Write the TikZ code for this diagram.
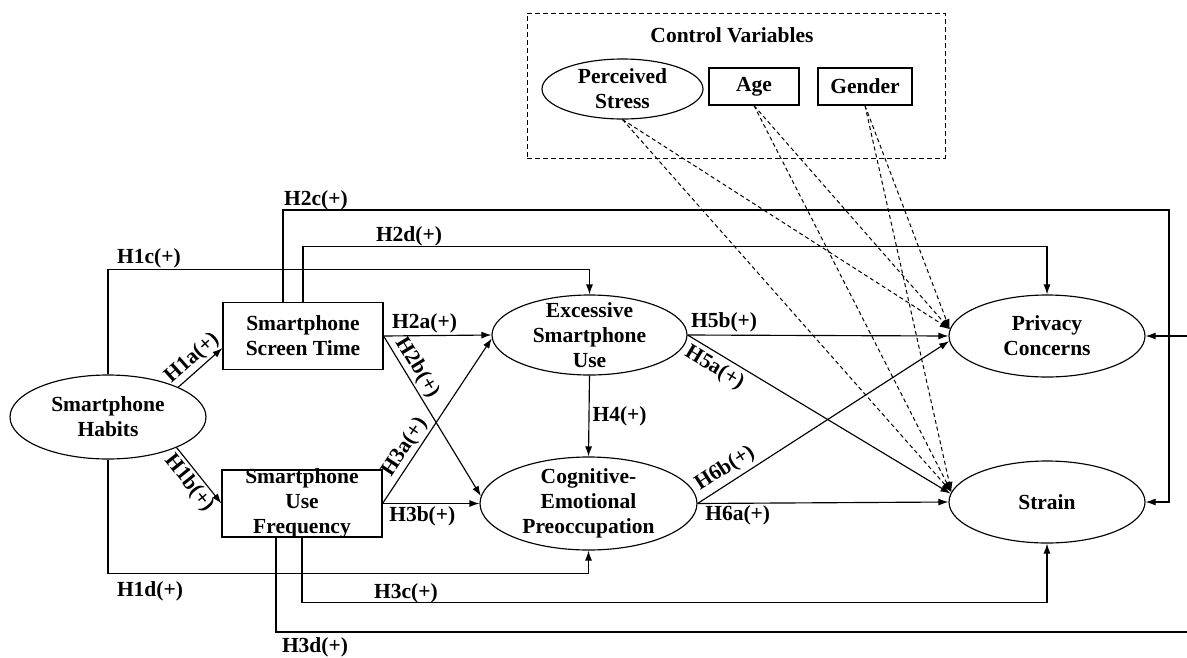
\documentclass[tikz,border=0pt]{standalone}
\usepackage{fontspec}
\setmainfont{Liberation Serif}
\usetikzlibrary{arrows.meta,shapes.geometric}
\begin{document}
\begin{tikzpicture}[x=1pt,y=-1pt,line width=1.15pt,
  every node/.style={font=\fontsize{21.5}{25}\selectfont\bfseries},
  ell/.style={ellipse,draw,inner sep=0pt},
  box/.style={rectangle,draw,inner sep=0pt},
  txt/.style={align=center,inner sep=0pt},
  arr/.style={-{Latex[length=10pt,width=7pt]}},
  ctrl/.style={arr,dash pattern=on 4pt off 3pt,line width=1pt},
  hyp/.style={inner sep=2pt}]
\useasboundingbox (0,0) rectangle (1187,657);

% control variables
\node[draw,dash pattern=on 5pt off 3pt,line width=1pt,minimum width=418pt,minimum height=145pt,inner sep=0pt] (cv) at (736,85.5) {};
\node[inner sep=0pt] (cvt) at (732,35) {Control Variables};
\node[ell,minimum width=161pt,minimum height=60pt,label={[txt]center:Perceived\\Stress}] (ps) at (622.5,89) {};
\node[box,minimum width=90pt,minimum height=37pt,label={[txt]center:Age}] (age) at (754,86.5) {};
\node[box,minimum width=94pt,minimum height=37pt,label={[txt]center:Gender}] (gen) at (865,86.5) {};

% constructs
\node[ell,minimum width=196pt,minimum height=84pt,label={[txt]center:Smartphone\\Habits}] (sh) at (108,417) {};
\node[box,minimum width=160pt,minimum height=67pt,label={[txt]center:Smartphone\\Screen Time}] (stt) at (303,336) {};
\node[box,minimum width=160pt,minimum height=67pt,label={[txt]center:Smartphone\\Use\\Frequency}] (uf) at (302,503.5) {};
\node[ell,minimum width=195pt,minimum height=80pt,label={[txt]center:Excessive\\Smartphone\\Use}] (es) at (589.5,335) {};
\node[ell,minimum width=217pt,minimum height=93pt,label={[txt]center:Cognitive-\\Emotional\\Preoccupation}] (ce) at (588.5,503.5) {};
\node[ell,minimum width=196pt,minimum height=82pt,label={[txt]center:Privacy\\Concerns}] (pc) at (1047,336) {};
\node[ell,minimum width=196pt,minimum height=82pt,label={[txt]center:Strain}] (st) at (1047,502) {};

% bend and edge points
\coordinate (rtop) at (1169,210);
\coordinate (bedge) at (1187,632);
\coordinate (redge) at (1187,336);

% direct paths
\draw[arr] (sh.23) -- node[hyp,sloped,above,pos=.5] (l1a) {H1a(+)} ([yshift=-12pt]stt.west);
\draw[arr] (sh.336) -- node[hyp,sloped,below,pos=.5] (l1b) {H1b(+)} (uf.west);
\draw[arr] (stt.east) -- node[hyp,above,pos=.38] (l2a) {H2a(+)} (es.west);
\draw[arr] (stt.east) -- node[hyp,sloped,above,pos=.24] (l2b) {H2b(+)} (ce.176);
\draw[arr] (uf.east) -- node[hyp,sloped,above,pos=.3] (l3a) {H3a(+)} (es.182);
\draw[arr] (uf.east) -- node[hyp,below,pos=.41] (l3b) {H3b(+)} (ce.west);
\draw[arr] (es.south) -- node[hyp,right,inner sep=3pt] (l4) {H4(+)} (ce.north);
\draw[arr] (es.east) -- node[hyp,above,pos=.14] (l5b) {H5b(+)} (pc.west);
\draw[arr] (es.east) -- node[hyp,sloped,below,pos=.13,inner sep=4pt] (l5a) {H5a(+)} (st.175);
\draw[arr] (ce.east) -- node[hyp,sloped,above,pos=.14,inner sep=4pt] (l6b) {H6b(+)} (pc.183);
\draw[arr] (ce.east) -- node[hyp,below,pos=.16] (l6a) {H6a(+)} (st.west);

% routed paths
\draw[arr] (sh.north) -- ++(0,-105) -| (es.north);
\draw[arr] (sh.south) -- ++(0,114) -| (ce.south);
\draw[arr] ([xshift=-20pt]stt.north) |- (rtop) |- (st.east);
\draw[arr] (stt.north) -- ++(0,-55.5) -| (pc.north);
\draw[arr] (uf.south) -- ++(0,65) -| (st.south);
\draw ([xshift=-26pt]uf.south) |- (bedge);
\draw[arr] (redge) -- (pc.east);

\node[hyp] (l1c) at (149,258) {H1c(+)};
\node[hyp] (l1d) at (150,591) {H1d(+)};
\node[hyp] (l2c) at (316,200) {H2c(+)};
\node[hyp] (l2d) at (409,236) {H2d(+)};
\node[hyp] (l3c) at (406,593) {H3c(+)};
\node[hyp] (l3d) at (315,647) {H3d(+)};

% control paths
\foreach \c in {ps,age,gen}{
  \draw[ctrl] (\c.south) -- (pc.176);
  \draw[ctrl] (\c.south) -- (st.174);
}
\end{tikzpicture}
\end{document}
